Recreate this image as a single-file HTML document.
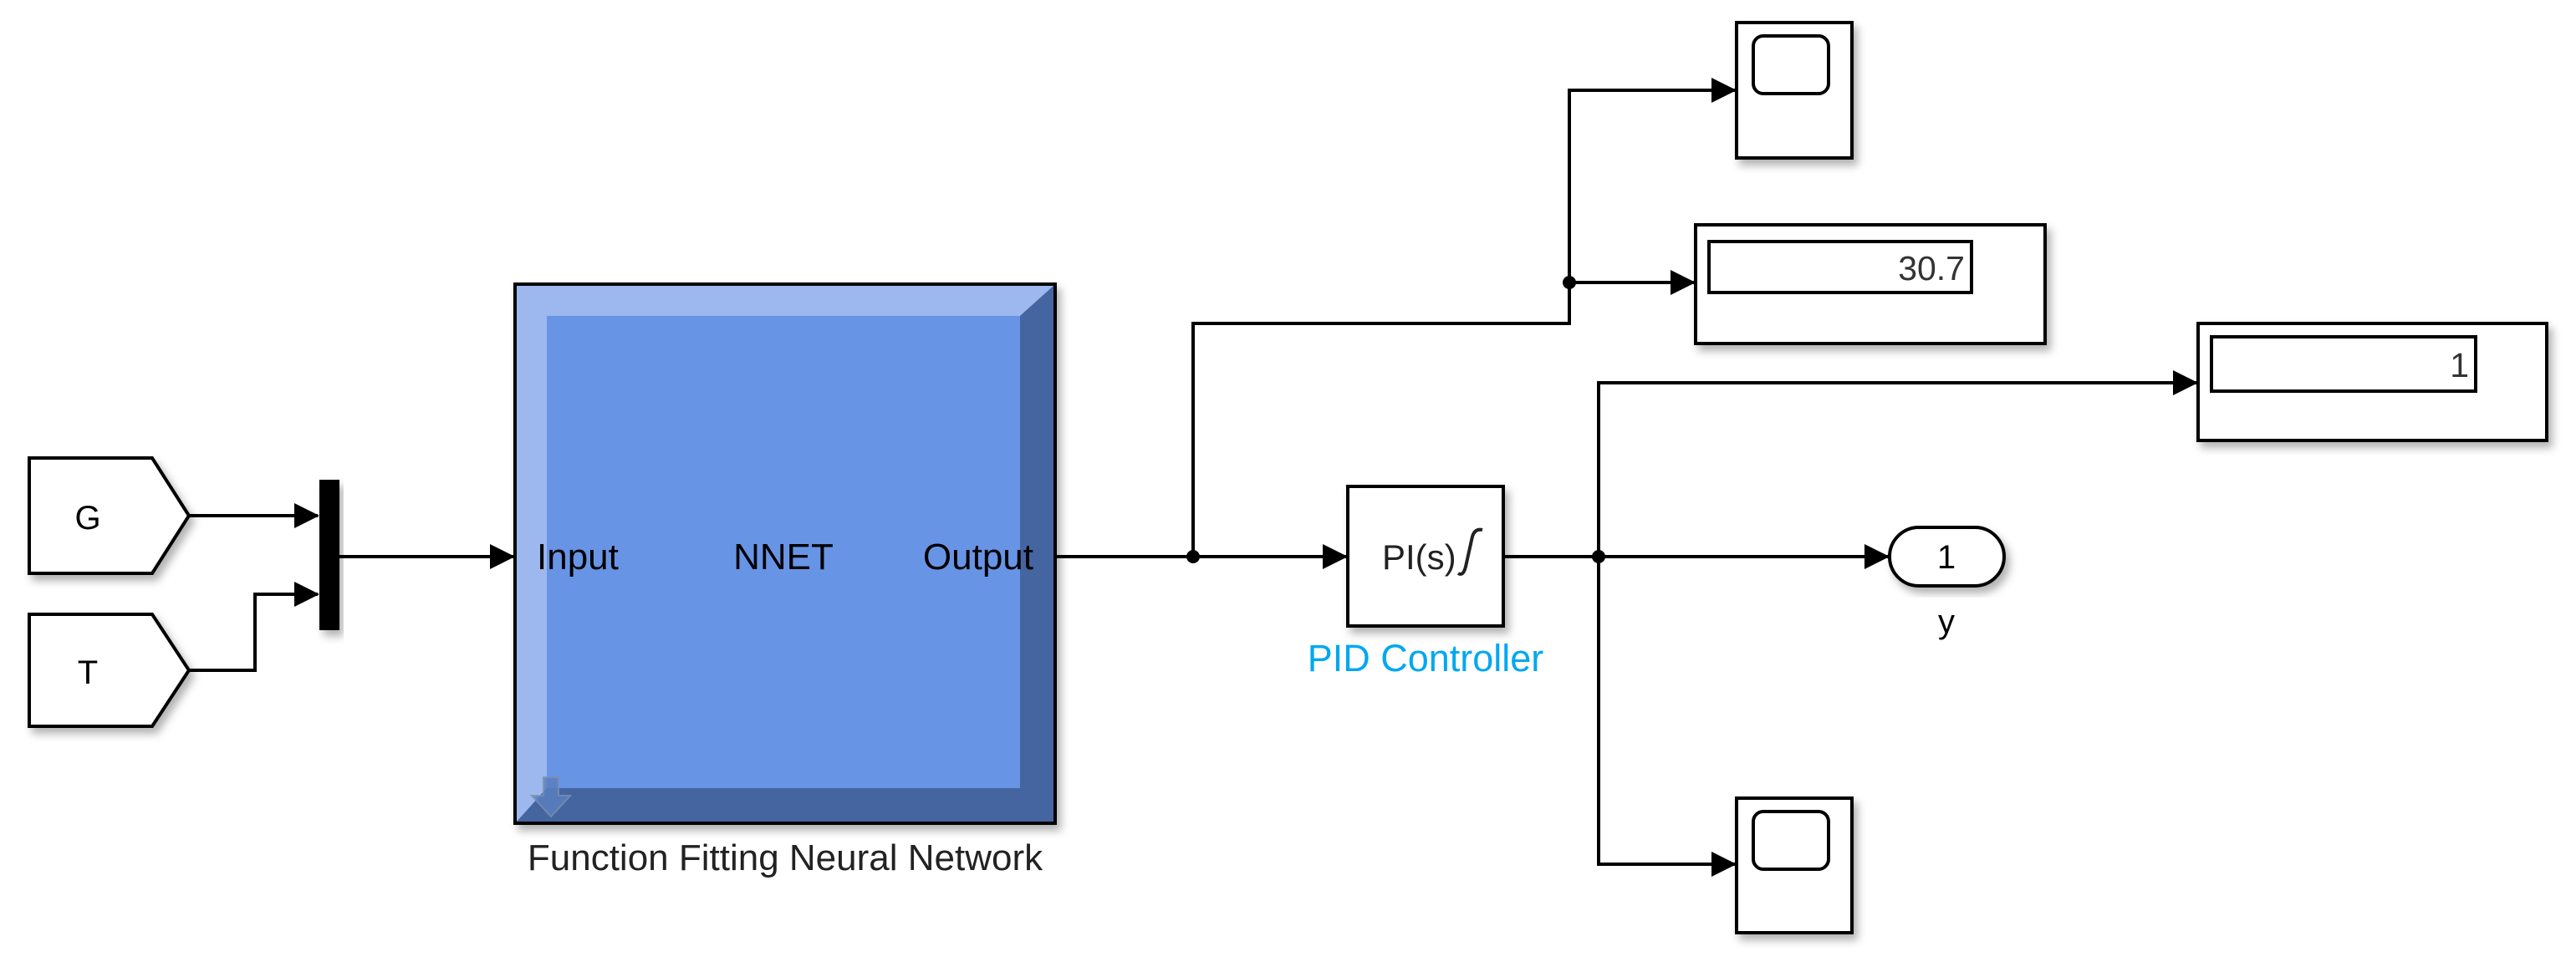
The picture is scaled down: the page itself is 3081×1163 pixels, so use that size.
<!DOCTYPE html>
<html><head><meta charset="utf-8"><style>
html,body{margin:0;padding:0;background:#fff;}
svg{display:block;}
text{font-family:"Liberation Sans",Arial,sans-serif;}
</style></head><body>
<svg width="3081" height="1163" viewBox="0 0 3081 1163" xmlns="http://www.w3.org/2000/svg">
<defs>
<filter id="sh" x="-10%" y="-10%" width="130%" height="130%"><feDropShadow dx="5" dy="7" stdDeviation="5" flood-color="#000" flood-opacity="0.3"/></filter>
<marker id="ar" markerWidth="30" markerHeight="30" refX="28" refY="15" orient="auto" markerUnits="userSpaceOnUse" viewBox="0 0 30 30"><path d="M0,0 L30,15 L0,30 z" fill="#000"/></marker>
</defs>
<g fill="none" stroke="#000" stroke-width="4">
<path d="M35,548 L182,548 L226,617 L182,686 L35,686 Z" fill="#fff" filter="url(#sh)"/>
<path d="M35,735 L182,735 L226,802 L182,869 L35,869 Z" fill="#fff" filter="url(#sh)"/>
</g>
<text x="105" y="633" font-size="40" text-anchor="middle">G</text>
<text x="105" y="818" font-size="40" text-anchor="middle">T</text>
<rect x="382" y="574" width="24" height="180" fill="#000" filter="url(#sh)"/>
<g filter="url(#sh)">
<rect x="616" y="340" width="646" height="645" fill="#6894e6" stroke="#000" stroke-width="4"/>
</g>
<polygon points="618,342 1260,342 1220,378 654,378 654,943 618,983" fill="#9db8ee"/>
<polygon points="1260,342 1260,983 618,983 654,943 1220,943 1220,378" fill="#4565a0"/>
<rect x="654" y="378" width="566" height="565" fill="#6894e6"/>
<rect x="616" y="340" width="646" height="645" fill="none" stroke="#000" stroke-width="4"/>
<path d="M650,930 h18 v22 h14 l-23,25 l-23,-25 h14 z" fill="#5a7fc0" stroke="#7a8fb0" stroke-width="2" opacity="0.85"/>
<text x="642" y="681" font-size="44">Input</text>
<text x="937" y="681" font-size="44" text-anchor="middle">NNET</text>
<text x="1236" y="681" font-size="44" text-anchor="end">Output</text>
<text x="939" y="1041" font-size="44" text-anchor="middle" fill="#222">Function Fitting Neural Network</text>
<g fill="none" stroke="#000" stroke-width="4">
<path d="M226,617 H380" marker-end="url(#ar)"/>
<path d="M226,802 H305 V711 H380" marker-end="url(#ar)"/>
<path d="M406,666 H614" marker-end="url(#ar)"/>
<path d="M1262,666 H1610" marker-end="url(#ar)"/>
<path d="M1427,666 V387 H1877 V108 H2075" marker-end="url(#ar)"/>
<path d="M1877,338 H2026" marker-end="url(#ar)"/>
<path d="M1798,666 H2258" marker-end="url(#ar)"/>
<path d="M1912,666 V458 H2627" marker-end="url(#ar)"/>
<path d="M1912,666 V1034 H2075" marker-end="url(#ar)"/>
</g>
<circle cx="1427" cy="666" r="8"/>
<circle cx="1877" cy="338" r="8"/>
<circle cx="1912" cy="666" r="8"/>
<rect x="1612" y="582" width="186" height="167" fill="#fff" stroke="#000" stroke-width="4" filter="url(#sh)"/>
<text x="1653" y="681" font-size="42" fill="#222">PI(s)</text>
<path d="M1744,686 q6,4 9,-8 l8,-36 q3,-10 12,-8" fill="none" stroke="#222" stroke-width="4"/>
<text x="1705" y="803" font-size="45" fill="#00a8f0" text-anchor="middle">PID Controller</text>
<rect x="2260" y="631" width="137" height="70" rx="35" fill="#fff" stroke="#000" stroke-width="4" filter="url(#sh)"/>
<text x="2328" y="680" font-size="40" text-anchor="middle">1</text>
<text x="2328" y="757" font-size="40" text-anchor="middle">y</text>
<rect x="2077" y="27" width="138" height="162" fill="#fff" stroke="#000" stroke-width="4" filter="url(#sh)"/>
<rect x="2097" y="43" width="90" height="69" rx="12" fill="#fff" stroke="#000" stroke-width="4"/>
<rect x="2077" y="955" width="138" height="161" fill="#fff" stroke="#000" stroke-width="4" filter="url(#sh)"/>
<rect x="2097" y="971" width="90" height="69" rx="12" fill="#fff" stroke="#000" stroke-width="4"/>
<rect x="2028" y="269" width="418" height="142" fill="#fff" stroke="#000" stroke-width="4" filter="url(#sh)"/>
<rect x="2044" y="289" width="314" height="61" fill="#fff" stroke="#000" stroke-width="4"/>
<text x="2350" y="335" font-size="41" text-anchor="end" fill="#333">30.7</text>
<rect x="2629" y="387" width="417" height="140" fill="#fff" stroke="#000" stroke-width="4" filter="url(#sh)"/>
<rect x="2645" y="403" width="316" height="65" fill="#fff" stroke="#000" stroke-width="4"/>
<text x="2953" y="451" font-size="41" text-anchor="end" fill="#333">1</text>
</svg>
</body></html>
